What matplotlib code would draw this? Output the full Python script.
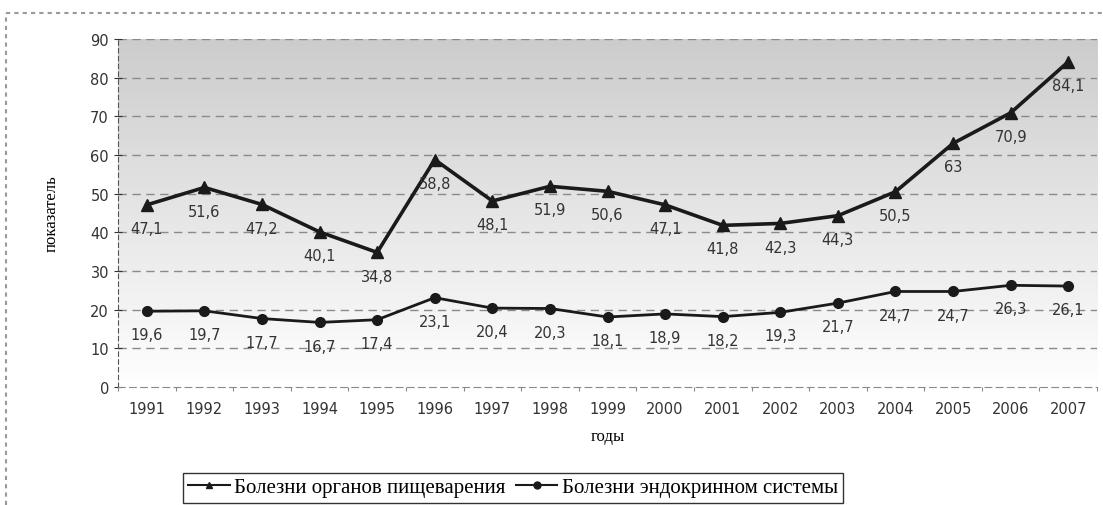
import matplotlib.pyplot as plt
import numpy as np
from matplotlib.lines import Line2D

years = ["1991", "1992", "1993", "1994", "1995", "1996", "1997", "1998", "1999",
         "2000", "2001", "2002", "2003", "2004", "2005", "2006", "2007"]
digestive = [47.1, 51.6, 47.2, 40.1, 34.8, 58.8, 48.1, 51.9, 50.6,
             47.1, 41.8, 42.3, 44.3, 50.5, 63, 70.9, 84.1]
endocrine = [19.6, 19.7, 17.7, 16.7, 17.4, 23.1, 20.4, 20.3, 18.1,
             18.9, 18.2, 19.3, 21.7, 24.7, 24.7, 26.3, 26.1]

names = ["Болезни органов пищеварения", "Болезни эндокринном системы"]

def fmt(v):
    # comma as decimal separator
    return ("%g" % v).replace(".", ",")

fig = plt.figure(figsize=(11.03, 5.06), dpi=100)
ax = fig.add_axes([0.107, 0.2332, 0.8876, 0.6878])

x = np.arange(len(years))

# grey gradient background, darker at the top
shade = np.linspace(1.0, 0.80, 256)
grad = np.dstack([shade, shade, shade]).reshape(256, 1, 3)
ax.imshow(grad, aspect="auto", extent=[-0.5, len(years) - 0.5, 0, 90],
          zorder=0, origin="lower", interpolation="bilinear")

ax.set_xlim(-0.5, len(years) - 0.5)
ax.set_ylim(0, 90)
ax.set_yticks(range(0, 91, 10))
ax.set_xticks(x)
ax.set_xticklabels(years)
ax.set_xticks(np.arange(-0.5, len(years), 1), minor=True)

for v in range(10, 91, 10):
    ax.axhline(v, color="#8a8a8a", lw=1, ls=(0, (6, 4)), zorder=1)

ax.plot(x, digestive, color="#1a1a1a", lw=2.6, marker="^", ms=8, zorder=3)
ax.plot(x, endocrine, color="#1a1a1a", lw=2.0, marker="o", ms=7, zorder=3)

for series in [digestive, endocrine]:
    for xi, v in zip(x, series):
        ax.annotate(fmt(v), (xi, v), xytext=(0, -17), textcoords="offset points",
                    ha="center", va="center", fontsize=10.5, color="#333333",
                    family="DejaVu Sans", zorder=4)

for side in ["top", "right"]:
    ax.spines[side].set_visible(False)
ax.spines["left"].set_linestyle((0, (4, 3)))
ax.spines["bottom"].set_linestyle((0, (6, 4)))
ax.spines["left"].set_color("#555555")
ax.spines["bottom"].set_color("#8a8a8a")
ax.tick_params(axis="y", labelsize=10.5, colors="#333333", length=6, width=0.8,
               direction="inout")
ax.tick_params(axis="x", which="major", labelsize=10.5, colors="#333333", length=0, pad=10)
ax.tick_params(axis="x", which="minor", length=3, width=0.8, colors="#8a8a8a",
               direction="out")

ax.set_xlabel("годы", family="Liberation Serif", fontsize=12, labelpad=9)
ax.set_ylabel("показатель", family="Liberation Serif", fontsize=12, labelpad=22)

handles = [
    Line2D([], [], color="#1a1a1a", lw=1.5, marker="^", ms=5),
    Line2D([], [], color="#1a1a1a", lw=1.5, marker="o", ms=5),
]
leg = fig.legend(handles, names, loc="upper center", bbox_to_anchor=(0.465, 0.064),
                 ncol=2, frameon=True, fancybox=False, edgecolor="black",
                 prop={"family": "Liberation Serif", "size": 15},
                 handlelength=2.0, handletextpad=0.2, columnspacing=0.5,
                 borderpad=0.25, borderaxespad=0)
leg.get_frame().set_linewidth(1.0)

# dashed frame around the figure region
fig.add_artist(Line2D([0.005, 1.0], [0.972, 0.972], transform=fig.transFigure,
                      color="#999999", lw=1.5, ls=(0, (2, 2))))
fig.add_artist(Line2D([0.005, 0.005], [0.0, 0.972], transform=fig.transFigure,
                      color="#999999", lw=1.5, ls=(0, (2, 2))))

fig.savefig("out.png", dpi=100)
